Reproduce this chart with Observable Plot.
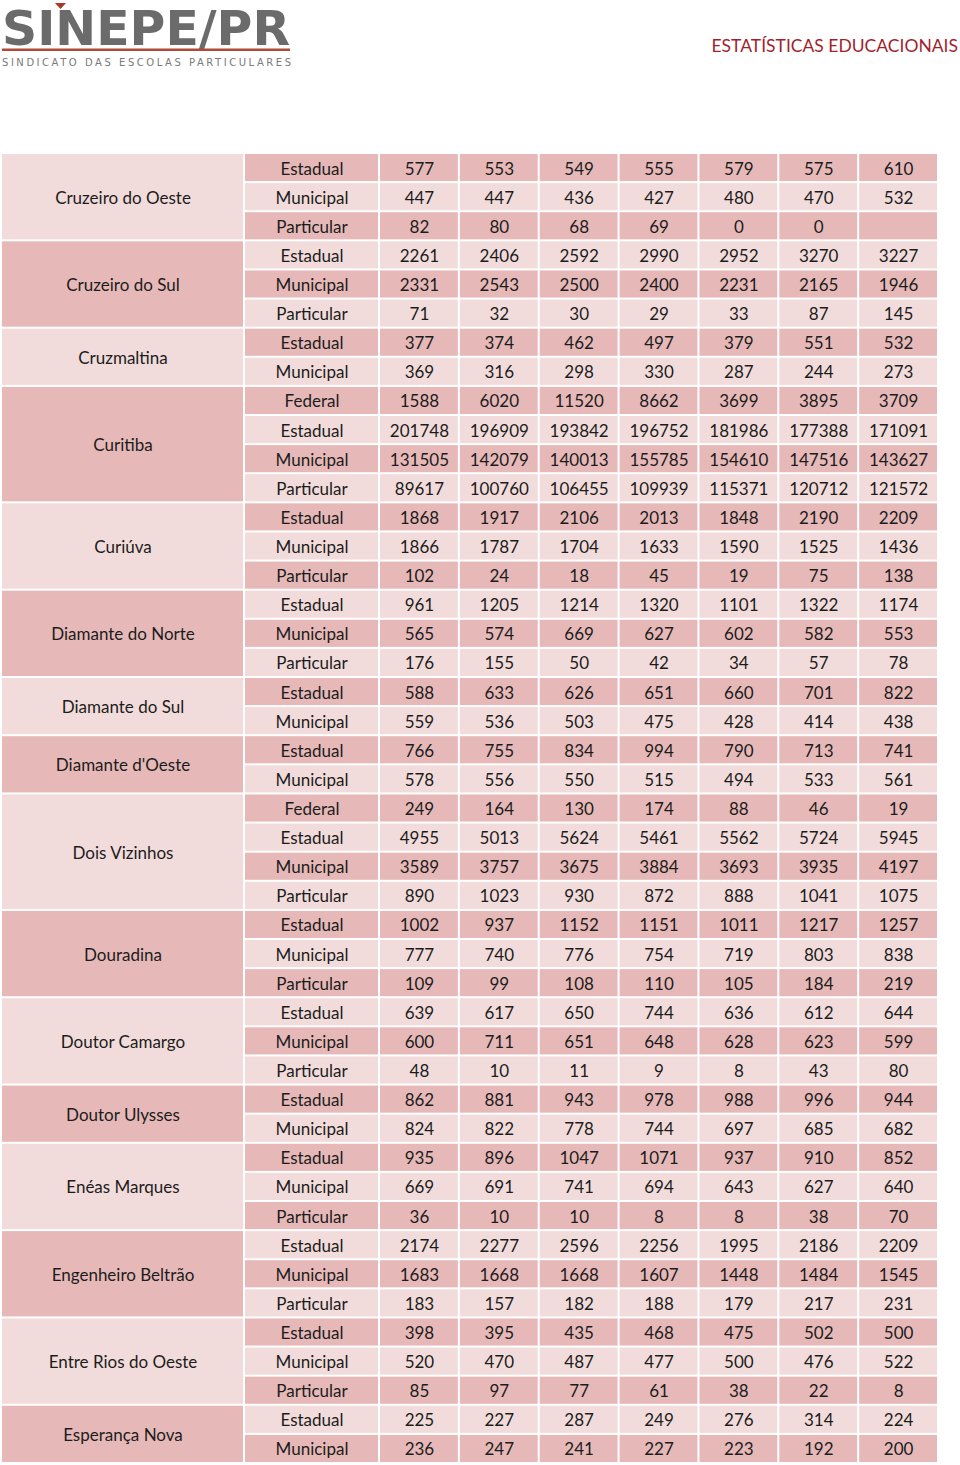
<!DOCTYPE html>
<html><head><meta charset="utf-8">
<script src="https://cdn.jsdelivr.net/npm/d3@7"></script>
<script src="https://cdn.jsdelivr.net/npm/@observablehq/plot@0.6"></script>
<style>
body{margin:0;background:#fff;width:960px;height:1465px;overflow:hidden;font-family:Lato,sans-serif}
#header{position:relative;height:153px}
#title{position:absolute;right:2px;top:35px;color:#a31f2d;font-size:17.5px;letter-spacing:0px;white-space:nowrap}
#chart{position:absolute;left:0;top:153px}
</style></head>
<body>
<div id="header">
<svg width="310" height="72" style="position:absolute;left:0;top:0">
 <text x="2" y="45" textLength="288" lengthAdjust="spacingAndGlyphs" font-family="DejaVu Sans" font-weight="bold" font-size="48" fill="#6b6b6b">SINEPE/PR</text>
 <polygon points="55,3 66,3 60.5,9" fill="#a8372a"/>
 <rect x="2" y="48.5" width="288" height="2.5" fill="#b04a36"/>
 <text x="2" y="66" textLength="289" lengthAdjust="spacing" font-family="DejaVu Sans" font-size="10" fill="#7a7a7a">SINDICATO DAS ESCOLAS PARTICULARES</text>
</svg>
<div id="title">ESTATÍSTICAS EDUCACIONAIS</div>
</div>
<div id="chart"></div>
<script>
// ---- data ----
const municipalities = ["Cruzeiro do Oeste","Cruzeiro do Sul","Cruzmaltina","Curitiba","Curiúva","Diamante do Norte","Diamante do Sul","Diamante d'Oeste","Dois Vizinhos","Douradina","Doutor Camargo","Doutor Ulysses","Enéas Marques","Engenheiro Beltrão","Entre Rios do Oeste","Esperança Nova"];
const schoolTypes = [
 ["Estadual","Municipal","Particular"],
 ["Estadual","Municipal","Particular"],
 ["Estadual","Municipal"],
 ["Federal","Estadual","Municipal","Particular"],
 ["Estadual","Municipal","Particular"],
 ["Estadual","Municipal","Particular"],
 ["Estadual","Municipal"],
 ["Estadual","Municipal"],
 ["Federal","Estadual","Municipal","Particular"],
 ["Estadual","Municipal","Particular"],
 ["Estadual","Municipal","Particular"],
 ["Estadual","Municipal"],
 ["Estadual","Municipal","Particular"],
 ["Estadual","Municipal","Particular"],
 ["Estadual","Municipal","Particular"],
 ["Estadual","Municipal"]
];
const enrollments = [
 [[577,553,549,555,579,575,610],[447,447,436,427,480,470,532],[82,80,68,69,0,0,null]],
 [[2261,2406,2592,2990,2952,3270,3227],[2331,2543,2500,2400,2231,2165,1946],[71,32,30,29,33,87,145]],
 [[377,374,462,497,379,551,532],[369,316,298,330,287,244,273]],
 [[1588,6020,11520,8662,3699,3895,3709],[201748,196909,193842,196752,181986,177388,171091],[131505,142079,140013,155785,154610,147516,143627],[89617,100760,106455,109939,115371,120712,121572]],
 [[1868,1917,2106,2013,1848,2190,2209],[1866,1787,1704,1633,1590,1525,1436],[102,24,18,45,19,75,138]],
 [[961,1205,1214,1320,1101,1322,1174],[565,574,669,627,602,582,553],[176,155,50,42,34,57,78]],
 [[588,633,626,651,660,701,822],[559,536,503,475,428,414,438]],
 [[766,755,834,994,790,713,741],[578,556,550,515,494,533,561]],
 [[249,164,130,174,88,46,19],[4955,5013,5624,5461,5562,5724,5945],[3589,3757,3675,3884,3693,3935,4197],[890,1023,930,872,888,1041,1075]],
 [[1002,937,1152,1151,1011,1217,1257],[777,740,776,754,719,803,838],[109,99,108,110,105,184,219]],
 [[639,617,650,744,636,612,644],[600,711,651,648,628,623,599],[48,10,11,9,8,43,80]],
 [[862,881,943,978,988,996,944],[824,822,778,744,697,685,682]],
 [[935,896,1047,1071,937,910,852],[669,691,741,694,643,627,640],[36,10,10,8,8,38,70]],
 [[2174,2277,2596,2256,1995,2186,2209],[1683,1668,1668,1607,1448,1484,1545],[183,157,182,188,179,217,231]],
 [[398,395,435,468,475,502,500],[520,470,487,477,500,476,522],[85,97,77,61,38,22,8]],
 [[225,227,287,249,276,314,224],[236,247,241,227,223,192,200]]
];

// ---- layout (styles) ----
const DARK = "#e6b9b8", LIGHT = "#f2dcdb", INK = "#1c1c1c";
const muniCol = [1, 244], typeCol = [244, 379];
const valStart = 379, valW = 79.86, nVal = 7;

// ---- build tables ----
const groups = [], rows = [], cells = [];
let r = 0;
municipalities.forEach((m, gi) => {
  const types = schoolTypes[gi];
  groups.push({name: m, gi, y1: r, y2: r + types.length});
  types.forEach((t, ti) => {
    rows.push({type: t, row: r});
    enrollments[gi][ti].forEach((v, ci) => cells.push({row: r, col: ci, v}));
    r++;
  });
});
const nRows = r;
const cx1 = d => valStart + d.col * valW, cx2 = d => valStart + (d.col + 1) * valW;

const chart = Plot.plot({
  width: 960, height: 1312, margin: 0,
  x: {domain: [0, 960], range: [0, 960], axis: null},
  y: {domain: [0, nRows], range: [0, 1310], axis: null},
  style: {fontFamily: "Lato, sans-serif", fontSize: "17px", background: "transparent"},
  marks: [
    Plot.rect(groups, {x1: () => muniCol[0], x2: () => muniCol[1], y1: "y1", y2: "y2", fill: d => d.gi % 2 ? DARK : LIGHT, inset: 1}),
    Plot.rect(rows, {x1: () => typeCol[0], x2: () => typeCol[1], y1: "row", y2: d => d.row + 1, fill: d => d.row % 2 ? LIGHT : DARK, inset: 1}),
    Plot.rect(cells, {x1: cx1, x2: cx2, y1: "row", y2: d => d.row + 1, fill: d => d.row % 2 ? LIGHT : DARK, inset: 1}),
    Plot.text(groups, {x: () => (muniCol[0] + muniCol[1]) / 2, y: d => (d.y1 + d.y2) / 2, text: "name", fill: INK, fontSize: 17, dy: 1}),
    Plot.text(rows, {x: () => (typeCol[0] + typeCol[1]) / 2, y: d => d.row + 0.5, text: "type", fill: INK, fontSize: 17, dy: 1}),
    Plot.text(cells, {x: d => (cx1(d) + cx2(d)) / 2, y: d => d.row + 0.5, text: d => d.v == null ? "" : String(d.v), fill: INK, fontSize: 17, dy: 1})
  ]
});
document.getElementById("chart").appendChild(chart);
</script>
</body></html>
